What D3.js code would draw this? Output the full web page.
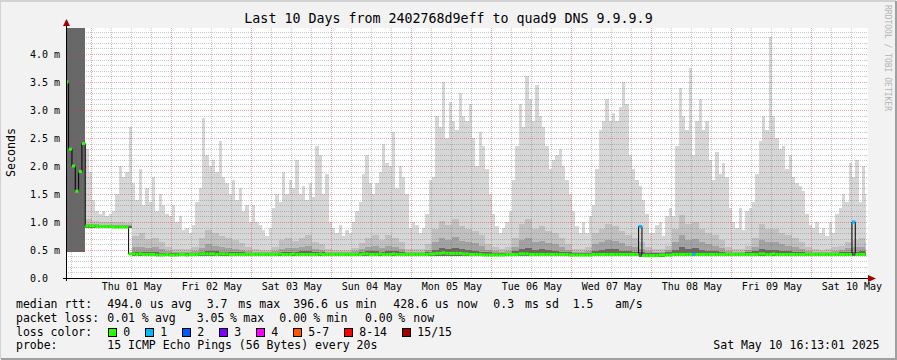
<!DOCTYPE html>
<html>
<head>
<meta charset="utf-8">
<script src="https://cdn.jsdelivr.net/npm/d3@7"></script>
<style>
  body { margin: 0; background: #f2f2f2; }
  text { font-family: "DejaVu Sans Mono", monospace; fill: #000; }
</style>
</head>
<body>
<div id="chart"></div>
<script>
// ---- data (values in ms) ----
const endTime = new Date(Date.UTC(2025, 4, 10, 16, 13, 1));
const startTime = new Date(endTime.getTime() - 10 * 864e5);
const slotStart = new Date(Date.UTC(2025, 3, 30, 16, 0, 0)); // first bucket, Apr 30 16:00

// median rtt, one value per hour (Apr 30 16:00 .. May 10 16:00)
const medianRtt = [
  3.5, 2.3, 2.0, 1.55, 1.9, 2.4, 0.93, 0.93,
  0.93, 0.92, 0.92, 0.92, 0.92, 0.92, 0.91, 0.91, 0.91, 0.91, 0.91, 0.43, 0.43, 0.42, 0.43, 0.42, 0.42, 0.42, 0.42, 0.41, 0.41, 0.41, 0.42, 0.41,
  0.41, 0.41, 0.42, 0.42, 0.41, 0.42, 0.42, 0.42, 0.43, 0.43, 0.43, 0.43, 0.43, 0.42, 0.43, 0.43, 0.43, 0.42, 0.42, 0.42, 0.42, 0.42, 0.42, 0.42,
  0.42, 0.42, 0.42, 0.42, 0.42, 0.42, 0.42, 0.42, 0.43, 0.42, 0.42, 0.42, 0.43, 0.42, 0.42, 0.42, 0.42, 0.42, 0.42, 0.42, 0.43, 0.42, 0.42, 0.42,
  0.42, 0.42, 0.42, 0.42, 0.42, 0.42, 0.42, 0.42, 0.42, 0.43, 0.43, 0.42, 0.42, 0.42, 0.43, 0.42, 0.42, 0.42, 0.43, 0.42, 0.42, 0.42, 0.42, 0.42,
  0.42, 0.42, 0.42, 0.42, 0.42, 0.43, 0.43, 0.44, 0.44, 0.45, 0.44, 0.44, 0.44, 0.44, 0.44, 0.43, 0.43, 0.42, 0.42, 0.42, 0.42, 0.41, 0.41, 0.41,
  0.41, 0.41, 0.41, 0.41, 0.42, 0.42, 0.42, 0.42, 0.43, 0.43, 0.43, 0.42, 0.42, 0.42, 0.42, 0.42, 0.42, 0.42, 0.42, 0.42, 0.42, 0.42, 0.42, 0.41,
  0.41, 0.41, 0.41, 0.41, 0.41, 0.41, 0.42, 0.42, 0.42, 0.42, 0.42, 0.42, 0.42, 0.42, 0.42, 0.42, 0.42, 0.42, 0.42, 0.42, 0.92, 0.40, 0.40, 0.40,
  0.40, 0.40, 0.41, 0.41, 0.41, 0.41, 0.42, 0.42, 0.42, 0.42, 0.42, 0.42, 0.42, 0.42, 0.42, 0.42, 0.42, 0.42, 0.42, 0.42, 0.42, 0.42, 0.42, 0.42,
  0.42, 0.42, 0.42, 0.42, 0.42, 0.42, 0.42, 0.42, 0.43, 0.43, 0.42, 0.42, 0.43, 0.42, 0.42, 0.42, 0.42, 0.42, 0.42, 0.42, 0.42, 0.42, 0.42, 0.42,
  0.42, 0.42, 0.42, 0.42, 0.42, 0.42, 0.42, 0.42, 0.42, 0.42, 0.42, 0.42, 1.0, 0.42, 0.42, 0.42, 0.43
];

// highest ping, one value per hour
const smokeMax = [
  5, 5, 5, 5, 5, 5, 2.3, 1.9,
  1.4, 1.2, 1.15, 1.2, 1.1, 1.15, 1.2, 1.5, 2.0, 1.8, 1.9, 2.7, 1.7, 1.4, 1.95, 1.3, 1.6, 1.35, 1.8, 1.2, 1.5, 1.3, 1.15, 1.1,
  1.3, 1.0, 1.1, 0.85, 0.9, 0.8, 0.95, 1.35, 1.6, 2.85, 2.2, 2.0, 2.1, 1.9, 2.45, 1.8, 1.7, 1.5, 1.75, 1.4, 1.6, 1.2, 1.3, 1.0,
  1.3, 1.0, 0.95, 0.85, 0.75, 0.9, 1.25, 1.5, 1.35, 1.9, 1.5, 1.75, 1.6, 2.1, 1.5, 1.65, 1.4, 1.7, 1.45, 2.35, 2.2, 1.5, 1.85, 1.0,
  0.9, 0.8, 0.95, 0.75, 0.85, 0.8, 1.0, 1.2, 1.35, 1.85, 2.2, 1.7, 1.5, 1.7, 1.9, 2.4, 2.05, 2.0, 2.6, 1.6, 2.0, 1.8, 1.5, 0.9,
  1.0, 0.95, 0.8, 0.9, 1.15, 1.75, 1.8, 2.9, 2.7, 3.5, 2.5, 3.15, 2.8, 2.65, 3.3, 2.9, 2.8, 3.1, 2.5, 2.0, 2.6, 2.35, 1.95, 1.5,
  1.15, 0.92, 0.8, 0.9, 1.0, 1.2, 1.75, 2.35, 3.1, 2.7, 3.6, 3.2, 2.8, 3.45, 2.9, 2.7, 2.35, 1.95, 2.1, 2.2, 2.3, 2.0, 1.75, 1.5,
  1.2, 0.92, 0.8, 1.0, 0.8, 1.1, 1.3, 1.95, 2.65, 2.8, 3.2, 2.8, 2.95, 2.8, 3.05, 3.5, 3.1, 2.2, 1.95, 1.75, 1.65, 1.4, 1.15, 0.8,
  0.8, 0.95, 1.0, 0.75, 1.1, 1.25, 1.1, 2.35, 3.4, 2.9, 2.65, 3.75, 2.2, 2.8, 3.2, 2.65, 2.8, 2.1, 1.75, 2.25, 1.85, 2.05, 1.8, 1.25,
  1.0, 0.9, 1.25, 0.85, 1.2, 1.25, 1.35, 1.85, 2.45, 2.9, 2.65, 4.3, 2.9, 2.5, 2.3, 2.35, 1.95, 2.2, 1.8, 1.7, 1.65, 1.55, 1.15, 0.95,
  0.9, 1.0, 0.8, 0.9, 0.75, 1.0, 0.8, 1.15, 1.25, 1.5, 1.35, 2.05, 1.8, 2.1, 1.35, 2.0, 1.5
];

// lowest ping and inner smoke layers, one value per two hours
const smokeMin = [
  0.47, 0.47, 0.47, 0.89,
  0.89, 0.89, 0.89, 0.89, 0.89, 0.89, 0.39, 0.39, 0.39, 0.39, 0.39, 0.39,
  0.39, 0.39, 0.39, 0.39, 0.39, 0.39, 0.39, 0.39, 0.39, 0.39, 0.39, 0.39,
  0.39, 0.39, 0.39, 0.39, 0.39, 0.39, 0.39, 0.39, 0.39, 0.39, 0.39, 0.39,
  0.39, 0.39, 0.39, 0.39, 0.39, 0.39, 0.39, 0.39, 0.39, 0.39, 0.39, 0.39,
  0.39, 0.39, 0.39, 0.39, 0.39, 0.39, 0.39, 0.39, 0.39, 0.39, 0.39, 0.39,
  0.39, 0.39, 0.39, 0.39, 0.39, 0.39, 0.39, 0.39, 0.39, 0.39, 0.39, 0.39,
  0.39, 0.39, 0.39, 0.39, 0.39, 0.39, 0.39, 0.39, 0.39, 0.39, 0.38, 0.38,
  0.38, 0.38, 0.39, 0.39, 0.39, 0.39, 0.39, 0.39, 0.39, 0.39, 0.39, 0.39,
  0.39, 0.39, 0.39, 0.39, 0.39, 0.39, 0.39, 0.39, 0.39, 0.39, 0.39, 0.39,
  0.39, 0.39, 0.39, 0.39, 0.39, 0.39, 0.39, 0.39, 0.39
];
const smokeL2 = [
  5, 5, 5, 1.05,
  1.02, 1.0, 1.0, 1.0, 1.0, 0.98, 0.75, 0.8, 0.7, 0.72, 0.65, 0.55,
  0.52, 0.52, 0.52, 0.56, 0.72, 0.85, 0.8, 0.75, 0.72, 0.68, 0.62, 0.55,
  0.52, 0.5, 0.5, 0.56, 0.68, 0.72, 0.66, 0.72, 0.76, 0.64, 0.6, 0.52,
  0.5, 0.5, 0.5, 0.54, 0.62, 0.72, 0.76, 0.68, 0.76, 0.72, 0.64, 0.52,
  0.52, 0.52, 0.6, 0.88, 1.02, 0.95, 1.05, 0.92, 0.88, 0.84, 0.76, 0.6,
  0.56, 0.52, 0.56, 0.72, 0.96, 1.05, 0.88, 0.92, 0.84, 0.8, 0.72, 0.6,
  0.52, 0.52, 0.56, 0.8, 0.88, 0.96, 0.92, 0.84, 0.76, 0.72, 0.64, 0.56,
  0.52, 0.52, 0.58, 0.88, 1.12, 0.96, 1.0, 0.88, 0.8, 0.76, 0.68, 0.56,
  0.52, 0.52, 0.58, 0.72, 0.96, 0.88, 0.88, 0.8, 0.76, 0.72, 0.64, 0.56,
  0.52, 0.5, 0.52, 0.55, 0.58, 0.64, 0.68, 0.72, 0.64
];
const smokeL3 = [
  5, 5, 5, 0.97,
  0.96, 0.95, 0.95, 0.95, 0.95, 0.94, 0.56, 0.56, 0.54, 0.56, 0.52, 0.48,
  0.47, 0.47, 0.47, 0.48, 0.54, 0.6, 0.58, 0.56, 0.54, 0.52, 0.5, 0.48,
  0.47, 0.46, 0.46, 0.48, 0.52, 0.54, 0.53, 0.56, 0.58, 0.52, 0.5, 0.47,
  0.46, 0.46, 0.46, 0.48, 0.52, 0.56, 0.58, 0.54, 0.58, 0.56, 0.52, 0.47,
  0.47, 0.47, 0.5, 0.64, 0.72, 0.68, 0.74, 0.66, 0.64, 0.62, 0.57, 0.5,
  0.48, 0.47, 0.48, 0.56, 0.68, 0.72, 0.64, 0.66, 0.62, 0.6, 0.56, 0.5,
  0.47, 0.47, 0.48, 0.6, 0.64, 0.68, 0.66, 0.62, 0.58, 0.56, 0.52, 0.48,
  0.47, 0.47, 0.5, 0.64, 0.76, 0.68, 0.7, 0.64, 0.6, 0.58, 0.54, 0.48,
  0.47, 0.47, 0.5, 0.56, 0.68, 0.64, 0.64, 0.6, 0.58, 0.56, 0.52, 0.48,
  0.47, 0.46, 0.47, 0.48, 0.5, 0.53, 0.55, 0.56, 0.52
];
const smokeL4 = [
  5, 5, 5, 0.95,
  0.94, 0.94, 0.93, 0.93, 0.93, 0.93, 0.46, 0.46, 0.46, 0.46, 0.45, 0.45,
  0.44, 0.44, 0.44, 0.45, 0.47, 0.48, 0.48, 0.47, 0.47, 0.46, 0.46, 0.45,
  0.44, 0.44, 0.44, 0.45, 0.46, 0.47, 0.47, 0.48, 0.48, 0.46, 0.46, 0.45,
  0.44, 0.44, 0.44, 0.45, 0.46, 0.48, 0.48, 0.47, 0.48, 0.48, 0.46, 0.45,
  0.45, 0.45, 0.46, 0.5, 0.53, 0.52, 0.54, 0.52, 0.5, 0.49, 0.47, 0.46,
  0.45, 0.44, 0.45, 0.48, 0.52, 0.54, 0.5, 0.51, 0.5, 0.49, 0.47, 0.46,
  0.44, 0.44, 0.45, 0.48, 0.5, 0.52, 0.51, 0.49, 0.48, 0.47, 0.46, 0.45,
  0.44, 0.44, 0.46, 0.5, 0.55, 0.52, 0.53, 0.5, 0.49, 0.48, 0.47, 0.45,
  0.44, 0.44, 0.46, 0.48, 0.52, 0.5, 0.5, 0.49, 0.48, 0.47, 0.46, 0.45,
  0.44, 0.44, 0.44, 0.45, 0.46, 0.46, 0.47, 0.48, 0.46
];

// hours with lost pings (index into medianRtt) and how many were lost
const lossSlots = [172, 188, 236];
const lossCount = [1, 1, 1];

const lossLabels = ["0", "1", "2", "3", "4", "5-7", "8-14", "15/15"];
const lossColors = ["#26ff00", "#00b8ff", "#0059ff", "#7e00ff", "#ff00ff", "#ff5500", "#ff0000", "#a00000"];

const yTicks = [0, 0.5, 1.0, 1.5, 2.0, 2.5, 3.0, 3.5, 4.0];

// ---- dimensions ----
const W = 897, H = 360;
const plot = { left: 66, right: 866, top: 28, bottom: 278 };
const hourMs = 36e5;

const svg = d3.select("#chart").append("svg")
    .attr("width", W)
    .attr("height", H);

// background and 3d frame
svg.append("rect").attr("width", W).attr("height", H).attr("fill", "#f2f2f2");
svg.append("path").attr("d", `M0,${H - 1} V1 H${W - 1}`).attr("fill", "none")
    .attr("stroke", "#d2d2d2").attr("stroke-width", 2);
svg.append("path").attr("d", `M1,${H - 1} H${W - 1} V1`).attr("fill", "none")
    .attr("stroke", "#a0a0a0").attr("stroke-width", 2);

svg.append("rect")
    .attr("x", plot.left).attr("y", plot.top)
    .attr("width", plot.right - plot.left + 2).attr("height", plot.bottom - plot.top)
    .attr("fill", "#fff");

const x = d3.scaleUtc().domain([startTime, endTime]).range([plot.left, plot.right]);
const y = d3.scaleLinear().domain([0, 250 / 56]).range([plot.bottom, plot.top]);

svg.append("defs").append("clipPath").attr("id", "clip")
    .append("rect")
    .attr("x", plot.left).attr("y", plot.top)
    .attr("width", plot.right - plot.left).attr("height", plot.bottom - plot.top);

const slotTime = (i, step) => new Date(slotStart.getTime() + i * step * hourMs);
const valueAt = (arr, step, t) =>
    arr[Math.min(arr.length - 1, Math.floor((t - slotStart) / (step * hourMs)))];

const g = svg.append("g").attr("clip-path", "url(#clip)");

// smoke layers, outer (light) to inner (dark)
const layers = [
    { data: smokeMax, step: 1, color: "#d6d6d6" },
    { data: smokeL2, step: 2, color: "#c0c0c0" },
    { data: smokeL3, step: 2, color: "#a2a2a2" },
    { data: smokeL4, step: 2, color: "#686868" }
];
layers.forEach(function(layer) {
    g.append("g")
        .attr("shape-rendering", "crispEdges")
        .selectAll("rect")
        .data(layer.data)
        .join("rect")
        .attr("x", (d, i) => x(slotTime(i, layer.step)))
        .attr("width", (d, i) => x(slotTime(i + 1, layer.step)) - x(slotTime(i, layer.step)))
        .attr("y", d => y(d))
        .attr("height", (d, i) => Math.max(0, y(valueAt(smokeMin, 2, slotTime(i, layer.step))) - y(d)))
        .attr("fill", layer.color);
});

// ---- grid (dotted, on top of smoke) ----
const grid = svg.append("g").attr("shape-rendering", "crispEdges");
const minorY = d3.range(1, 45).map(d => d / 10).filter(d => d % 0.5 > 0.01 && d % 0.5 < 0.49);
grid.selectAll(".hmin").data(minorY).join("line")
    .attr("x1", plot.left).attr("x2", plot.right + 2)
    .attr("y1", d => Math.round(y(d)) + 0.5).attr("y2", d => Math.round(y(d)) + 0.5)
    .attr("stroke", "rgba(100,100,100,0.35)").attr("stroke-dasharray", "1,1");
const minorX = d3.utcHour.every(6).range(startTime, endTime).filter(d => d.getUTCHours() !== 0);
grid.selectAll(".vmin").data(minorX).join("line")
    .attr("x1", d => Math.floor(x(d)) + 0.5).attr("x2", d => Math.floor(x(d)) + 0.5)
    .attr("y1", plot.top).attr("y2", plot.bottom)
    .attr("stroke", "rgba(100,100,100,0.35)").attr("stroke-dasharray", "1,1");
grid.selectAll(".hmaj").data(yTicks.slice(1)).join("line")
    .attr("x1", plot.left).attr("x2", plot.right + 2)
    .attr("y1", d => Math.round(y(d)) + 0.5).attr("y2", d => Math.round(y(d)) + 0.5)
    .attr("stroke", "rgba(222,50,50,0.45)").attr("stroke-dasharray", "1,1");
const days = d3.utcDay.range(startTime, endTime);
grid.selectAll(".vmaj").data(days).join("line")
    .attr("x1", d => Math.floor(x(d)) + 0.5).attr("x2", d => Math.floor(x(d)) + 0.5)
    .attr("y1", plot.top).attr("y2", plot.bottom)
    .attr("stroke", "rgba(222,50,50,0.45)").attr("stroke-dasharray", "1,1");

// ---- median line ----
const med = svg.append("g").attr("clip-path", "url(#clip)");
const medPts = medianRtt.map((v, i) => ({ t: slotTime(i, 1), v: v }));
medPts.push({ t: endTime, v: medianRtt[medianRtt.length - 1] });
med.append("path")
    .datum(medPts)
    .attr("fill", "none")
    .attr("stroke", "#000")
    .attr("stroke-width", 1)
    .attr("d", d3.line().curve(d3.curveStepAfter).x(d => x(d.t)).y(d => y(d.v)));

const lossOf = i => { const k = lossSlots.indexOf(i); return k < 0 ? 0 : lossCount[k]; };
med.selectAll(".seg").data(medianRtt).join("line")
    .attr("x1", (d, i) => x(slotTime(i, 1)))
    .attr("x2", (d, i) => x(slotTime(i + 1, 1)))
    .attr("y1", d => y(d)).attr("y2", d => y(d))
    .attr("stroke", (d, i) => lossColors[lossOf(i)])
    .attr("stroke-width", 3);

// ---- axes ----
const axisCol = "#000", arrowCol = "#a00000";
svg.append("line").attr("x1", plot.left - 3).attr("x2", plot.right + 4)
    .attr("y1", plot.bottom + 0.5).attr("y2", plot.bottom + 0.5).attr("stroke", axisCol);
svg.append("line").attr("x1", plot.left + 0.5).attr("x2", plot.left + 0.5)
    .attr("y1", plot.bottom + 3).attr("y2", plot.top - 3).attr("stroke", axisCol);
svg.append("path")
    .attr("d", `M${plot.right + 2},${plot.bottom - 3} L${plot.right + 10},${plot.bottom + 0.5} L${plot.right + 2},${plot.bottom + 4} Z`)
    .attr("fill", arrowCol);
svg.append("path")
    .attr("d", `M${plot.left - 3},${plot.top - 2} L${plot.left + 0.5},${plot.top - 9} L${plot.left + 4},${plot.top - 2} Z`)
    .attr("fill", arrowCol);

// y labels
svg.selectAll(".ylab").data(yTicks).join("text")
    .attr("x", 30)
    .attr("y", d => Math.round(y(d)) + 3.5)
    .style("font-size", "10px")
    .text(d => d === 0 ? "0.0" : d.toFixed(1) + " m");

// x labels, centred at noon
const fmt = d3.utcFormat("%a %d %b");
svg.selectAll(".xlab").data(days).join("text")
    .attr("x", d => x(new Date(d.getTime() + 12 * hourMs)))
    .attr("y", 290)
    .attr("text-anchor", "middle")
    .style("font-size", "10px")
    .text(d => fmt(d));

svg.append("text")
    .attr("transform", "translate(15,152.5) rotate(-90)")
    .attr("text-anchor", "middle")
    .style("font-size", "11.6px")
    .text("Seconds");

svg.append("text")
    .attr("x", 448.5).attr("y", 23)
    .attr("text-anchor", "middle")
    .style("font-size", "13.3px")
    .text("Last 10 Days from 2402768d9eff to quad9 DNS 9.9.9.9");

svg.append("text")
    .attr("transform", "translate(885,5) rotate(90)")
    .style("font-size", "8px")
    .style("fill", "#b4b4b4")
    .text("RRDTOOL / TOBI OETIKER");

// ---- legend ----
const legendLines = [
    [["median rtt:", 16], ["494.0", 107.3], ["us", 150], ["avg", 171], ["3.7", 206.7], ["ms", 238.3], ["max", 259.3],
     ["396.6", 293.3], ["us", 335], ["min", 356], ["428.6", 393.3], ["us", 435], ["now", 456.7],
     ["0.3", 493.3], ["ms", 525], ["sd", 545], ["1.5", 572.7], ["am/s", 615]],
    [["packet loss:", 16], ["0.01", 107.3], ["%", 141.7], ["avg", 155], ["3.05", 196.7], ["%", 230], ["max", 243.3],
     ["0.00", 279.3], ["%", 313.3], ["min", 326.7], ["0.00", 365], ["%", 398.3], ["now", 413.3]],
    [["loss color:", 16]],
    [["probe:", 16], ["15 ICMP Echo Pings (56 Bytes) every 20s", 107.3]]
];
const legend = svg.append("g").style("font-size", "11.5px");
legendLines.forEach(function(tokens, li) {
    legend.selectAll(".l" + li).data(tokens).join("text")
        .attr("x", d => d[1])
        .attr("y", 308 + li * 13.8)
        .text(d => d[0]);
});

// loss colour boxes
let bx = 108.3;
const boxes = lossLabels.map(function(lab, i) {
    const b = { x: bx, label: lab, color: lossColors[i] };
    bx += 15 + lab.length * 7 + 15;
    return b;
});
legend.selectAll(".box").data(boxes).join("rect")
    .attr("x", d => Math.round(d.x) + 0.5).attr("y", 328.5)
    .attr("width", 8).attr("height", 8)
    .attr("fill", d => d.color).attr("stroke", "#000");
legend.selectAll(".boxlab").data(boxes).join("text")
    .attr("x", d => d.x + 15)
    .attr("y", 308 + 2 * 13.8)
    .text(d => d.label);

svg.append("text")
    .attr("x", 713.3).attr("y", 308 + 3 * 13.8)
    .style("font-size", "11.5px")
    .text("Sat May 10 16:13:01 2025");
</script>
</body>
</html>
